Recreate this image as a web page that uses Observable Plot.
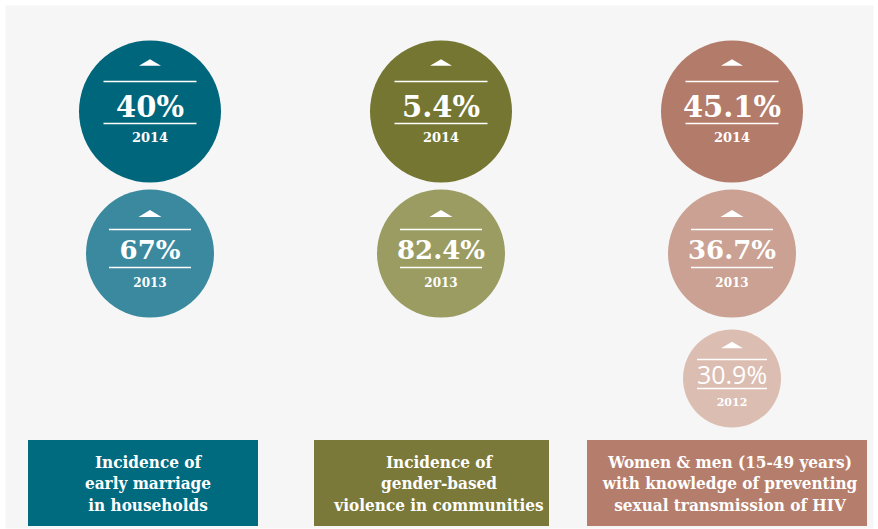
<!DOCTYPE html>
<html>
<head>
<meta charset="utf-8">
<script src="https://cdn.jsdelivr.net/npm/d3@7"></script>
<script src="https://cdn.jsdelivr.net/npm/@observablehq/plot@0.6"></script>
<style>
  html, body { margin: 0; padding: 0; background: #ffffff; }
  #chart svg { display: block; }
</style>
</head>
<body>
<div id="chart"></div>
<script>
// ---- data ----
const categories = ["early marriage", "gender-based violence", "HIV knowledge"];
const categoryLabels = [
  "Incidence of\nearly marriage\nin households",
  "Incidence of\ngender-based\nviolence in communities",
  "Women & men (15-49 years)\nwith knowledge of preventing\nsexual transmission of HIV"
];
const pointCategory = ["early marriage", "early marriage", "gender-based violence", "gender-based violence", "HIV knowledge", "HIV knowledge", "HIV knowledge"];
const pointYear = [2014, 2013, 2014, 2013, 2014, 2013, 2012];
const pointValue = [40, 67, 5.4, 82.4, 45.1, 36.7, 30.9];
const years = [2014, 2013, 2012];

// ---- styles ----
const circleColors = {
  "early marriage": {2014: "#00667c", 2013: "#3b899e"},
  "gender-based violence": {2014: "#747631", 2013: "#9b9c62"},
  "HIV knowledge": {2014: "#b37b69", 2013: "#caa192", 2012: "#dcbdb1"}
};
const boxColors = ["#006a7f", "#7a7939", "#b57e6c"];
const boxInsets = [[24, 37], [19, 37], [1, 10]];
const layout = {
  2014: {r: 71, triDy: -49, triR: 11, lineTop: -30, lineHalf: 46.5, valueDy: 5, valueSize: 29, lineBottom: 12, yearDy: 30, yearSize: 13, font: "DejaVu Serif", weight: "bold"},
  2013: {r: 64, triDy: -40, triR: 11.5, lineTop: -24, lineHalf: 41, valueDy: 5, valueSize: 26, lineBottom: 14, yearDy: 33, yearSize: 12, font: "DejaVu Serif", weight: "bold"},
  2012: {r: 49, triDy: -33.5, triR: 11, lineTop: -19, lineHalf: 35, valueDy: 5, valueSize: 25, lineBottom: 10, yearDy: 27, yearSize: 11, font: "Open Sans", weight: "normal"}
};

const data = pointCategory.map((c, i) => ({category: c, year: pointYear[i], value: pointValue[i]}));

// custom symbols
const flatTriangle = {
  draw(ctx, size) {
    const r = Math.sqrt(size / Math.PI);
    const h = r * 0.6;
    ctx.moveTo(-r, h / 2);
    ctx.lineTo(0, -h / 2);
    ctx.lineTo(r, h / 2);
    ctx.closePath();
  }
};
const hLine = {
  draw(ctx, size) {
    const r = Math.sqrt(size / Math.PI);
    ctx.moveTo(-r, 0);
    ctx.lineTo(r, 0);
  }
};

const marks = [
  Plot.frame({fill: "#f6f6f6", stroke: null, insetTop: 5, insetLeft: 5, insetRight: 5, insetBottom: 1})
];

for (const yr of years) {
  const L = layout[yr];
  const rows = data.filter(d => d.year === yr);
  marks.push(
    Plot.dot(rows, {x: "category", y: "year", r: () => L.r, fill: d => circleColors[d.category][d.year], stroke: null}),
    Plot.dot(rows, {x: "category", y: "year", r: () => L.triR, symbol: flatTriangle, fill: "white", stroke: null, dy: L.triDy}),
    Plot.dot(rows, {x: "category", y: "year", r: () => L.lineHalf, symbol: hLine, fill: "none", stroke: "white", strokeWidth: 1.5, dy: L.lineTop}),
    Plot.dot(rows, {x: "category", y: "year", r: () => L.lineHalf, symbol: hLine, fill: "none", stroke: "white", strokeWidth: 1.5, dy: L.lineBottom}),
    Plot.text(rows, {x: "category", y: "year", text: d => `${d.value}%`, fill: "white", fontSize: L.valueSize, fontFamily: L.font, fontWeight: L.weight, lineAnchor: "bottom", dy: L.valueDy}),
    Plot.text(rows, {x: "category", y: "year", text: d => String(d.year), fill: "white", fontSize: L.yearSize, fontFamily: "DejaVu Serif", fontWeight: "bold", lineAnchor: "bottom", dy: L.yearDy})
  );
}

categories.forEach((c, i) => {
  marks.push(
    Plot.cell([c], {x: d => d, fill: boxColors[i], insetLeft: boxInsets[i][0], insetRight: boxInsets[i][1], insetTop: 440, insetBottom: 3})
  );
});

marks.push(
  Plot.text(categories, {
    x: d => d,
    text: (d, i) => categoryLabels[i],
    frameAnchor: "bottom",
    dy: -47,
    dx: -2,
    lineAnchor: "middle",
    lineHeight: 1.27,
    fontSize: 17,
    fontFamily: "DejaVu Serif Condensed, DejaVu Serif",
    fontWeight: "bold",
    fill: "white",
    stroke: null
  })
);

const chart = Plot.plot({
  width: 878,
  height: 529,
  margin: 0,
  style: {background: "transparent"},
  x: {type: "band", domain: categories, range: [3, 877], padding: 0, axis: null},
  y: {type: "linear", domain: [2014, 2013, 2012], range: [111, 253, 378], axis: null},
  r: {type: "identity"},
  color: {type: "identity"},
  marks
});
document.getElementById("chart").appendChild(chart);
</script>
</body>
</html>
